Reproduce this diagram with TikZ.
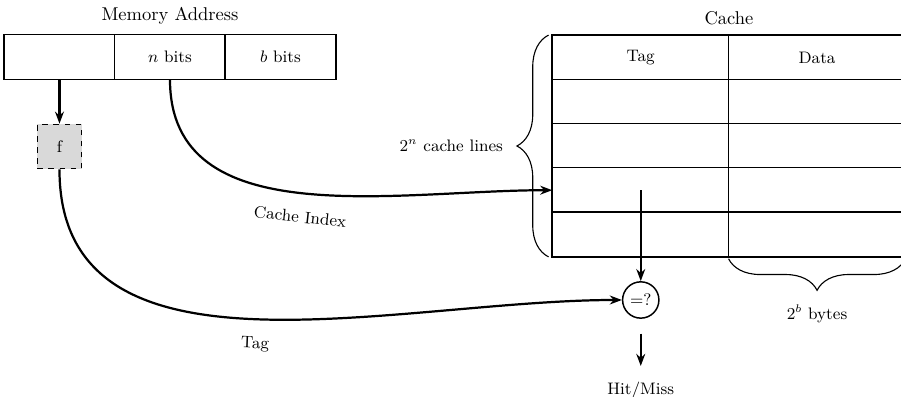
\documentclass[tikz,border=0pt]{standalone}
\usepackage{amsmath}
\usepackage{tikz}
\usetikzlibrary{matrix,positioning,decorations.pathreplacing,arrows.meta}

\begin{document}
\begin{tikzpicture}[
		cell/.style={minimum width=2.1cm, minimum height=0.84cm, inner sep=0pt, anchor=center, font=\small},
		line/.style={very thick, -{Stealth[length=6.5pt, width=4.8pt]}},
		fbox/.style={draw, thick, dashed, fill=gray!30, minimum size=0.84cm, inner sep=0pt, font=\small},
		cmp/.style={draw, thick, circle, minimum size=0.69cm, inner sep=0pt, font=\small},
		bracket/.style={semithick, decorate, decoration={brace, amplitude=0.6cm, raise=#1}},
	]
		\useasboundingbox (0,0) rectangle (17.12,-7.54);

		% memory address
		\matrix (addr) [matrix of nodes, nodes in empty cells, inner sep=0pt, nodes={cell}] at (3.23,-1.083) {
			 & $n$ bits & $b$ bits \\
		};
		\draw[thick] (addr-1-1.north west) rectangle (addr-1-3.south east);
		\foreach \i in {2,3}{
			\draw[thick] (addr-1-\i.north west) -- (addr-1-\i.south west);
		}
		\node[above=2pt of addr] (addr_title) {Memory Address};

		% cache
		\matrix (cache) [matrix of nodes, nodes in empty cells, inner sep=0pt, nodes={cell, minimum width=3.35cm}] at (13.85,-2.774) {
			Tag & Data \\
			 & \\
			 & \\
			 & \\
			 & \\
		};
		\draw[thick] (cache-1-1.north west) rectangle (cache-5-2.south east);
		\foreach \i in {2,...,5}{
			\draw[thick] (cache-\i-1.north west) -- (cache-\i-2.north east);
		}
		\draw[thick] (cache-1-2.north west) -- (cache-5-2.south west);
		\node[above=2pt of cache] (cache_title) {Cache};

		\draw[bracket=2pt] (cache-5-1.south west) -- (cache-1-1.north west) node[midway, left=0.81cm, font=\small] (lines) {$2^n$ cache lines};
		\draw[bracket=1pt] (cache-5-2.south east) -- (cache-5-2.south west) node[midway, below=0.78cm, font=\small] (bytes) {$2^b$ bytes};

		\node[fbox, below=0.84cm of addr-1-1] (f) {f};
		\node[cmp, below=0.46cm of cache-5-1] (cmp) {=?};
		\node[below=1.07cm of cmp, font=\small] (hm) {Hit/Miss};

		\draw[line] (addr-1-1.south) -- (f);
		\draw[line] (addr-1-2.south) to[out=-90, in=180] node[midway, sloped, below=0.2cm, font=\small] {Cache Index} (cache-4-1.west);
		\draw[line] (f) to[out=-90, in=180] node[midway, sloped, below=0.2cm, font=\small] {Tag} (cmp);
		\draw[line] (cache-4-1.center) -- (cmp);
		\draw[line, shorten <=8pt, shorten >=5pt] (cmp) -- (hm);
	\end{tikzpicture}
\end{document}
